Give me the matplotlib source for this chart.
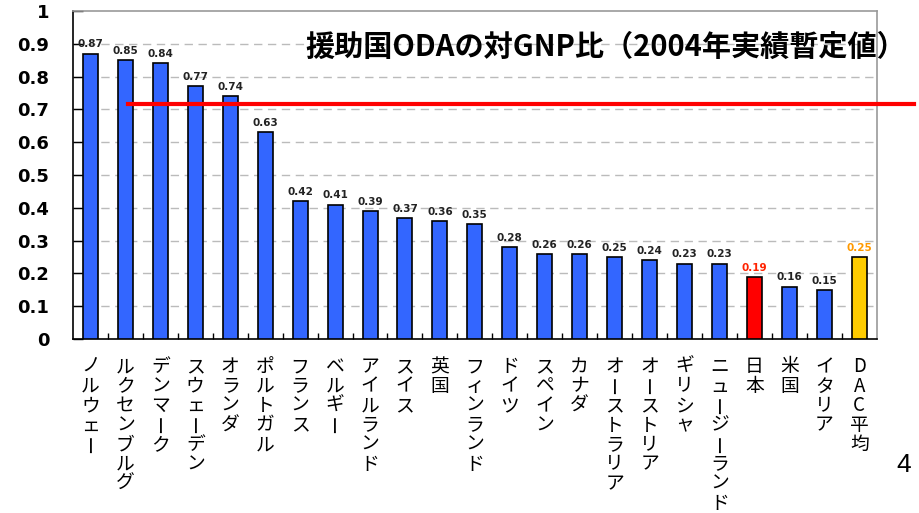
import numpy as np
import matplotlib.pyplot as plt
from matplotlib import transforms

plt.rcParams['font.family'] = ['Noto Sans CJK JP', 'DejaVu Sans']

countries = ['ノルウェー', 'ルクセンブルグ', 'デンマーク', 'スウェーデン', 'オランダ',
             'ポルトガル', 'フランス', 'ベルギー', 'アイルランド', 'スイス', '英国',
             'フィンランド', 'ドイツ', 'スペイン', 'カナダ', 'オーストラリア',
             'オーストリア', 'ギリシャ', 'ニュージーランド', '日本', '米国',
             'イタリア', 'DAC平均']
oda_ratio = [0.87, 0.85, 0.84, 0.77, 0.74, 0.63, 0.42, 0.41, 0.39, 0.37, 0.36,
             0.35, 0.28, 0.26, 0.26, 0.25, 0.24, 0.23, 0.23, 0.19, 0.16, 0.15, 0.25]
target = 0.715
title = '援助国ODAの対GNP比（2004年実績暫定値）'

bar_colors = ['#3366FF'] * len(countries)
label_colors = ['#222222'] * len(countries)
bar_colors[countries.index('日本')] = '#FF0000'
label_colors[countries.index('日本')] = '#FF2200'
bar_colors[-1] = '#FFCC00'
label_colors[-1] = '#FF9900'

fig = plt.figure(figsize=(9.2, 5.13), dpi=100)
fig.patch.set_facecolor('white')
ax = fig.add_axes([0.0793, 0.339, 0.8737, 0.6396])

x = np.arange(len(countries))
ax.bar(x, oda_ratio, width=0.43, color=bar_colors, edgecolor='black', linewidth=1.2, zorder=3)

for xi, v, c in zip(x, oda_ratio, label_colors):
    ax.annotate(f'{v:.2f}', (xi, v), xytext=(0, 3), textcoords='offset points',
                ha='center', va='bottom', fontsize=7.5, fontweight='bold',
                family='DejaVu Sans', color=c, zorder=4)

ax.axhline(target, xmin=0.068, xmax=1.046, color='#FF0000', linewidth=3, clip_on=False, zorder=5)

ax.set_xlim(-0.5, len(countries) - 0.5)
ax.set_ylim(0, 1)
yt = np.round(np.arange(0, 1.01, 0.1), 1)
ax.set_yticks(yt)
ax.set_yticklabels(['0' if t == 0 else ('1' if t == 1 else f'{t:.1f}') for t in yt],
                   fontsize=13, fontweight='bold', family='DejaVu Sans')
ax.tick_params(axis='y', direction='in', length=7, width=1, pad=17)
ax.set_xticks(x[:-1] + 0.5)
ax.set_xticklabels([])
ax.tick_params(axis='x', direction='in', length=4, width=1)

for t in yt[1:-1]:
    ax.axhline(t, color='#BBBBBB', linewidth=1, linestyle=(0, (6, 4)), zorder=1)

ax.spines['left'].set_color('black')
ax.spines['bottom'].set_color('black')
ax.spines['top'].set_color('#999999')
ax.spines['right'].set_color('#999999')
for sp in ax.spines.values():
    sp.set_linewidth(1.2)

# vertical (tategaki) category labels, one character per row
base = transforms.blended_transform_factory(ax.transData, ax.transAxes)
for xi, name in zip(x, countries):
    for j, ch in enumerate(name):
        tr = transforms.offset_copy(base, fig=fig, x=0, y=-(17 + 19.5 * j), units='dots')
        rot = 90 if ch == 'ー' else 0
        ax.text(xi, 0, ch, transform=tr, ha='center', va='top', fontsize=13.5,
                rotation=rot, rotation_mode='anchor' if rot == 0 else 'default')

fig.text(0.985, 0.908, title, ha='right', va='center', fontsize=21, fontweight='bold')
fig.text(0.982, 0.093, '4', ha='center', va='center', fontsize=19, family='Liberation Sans')

fig.savefig('out.png', dpi=100, facecolor='white')
plt.close(fig)
